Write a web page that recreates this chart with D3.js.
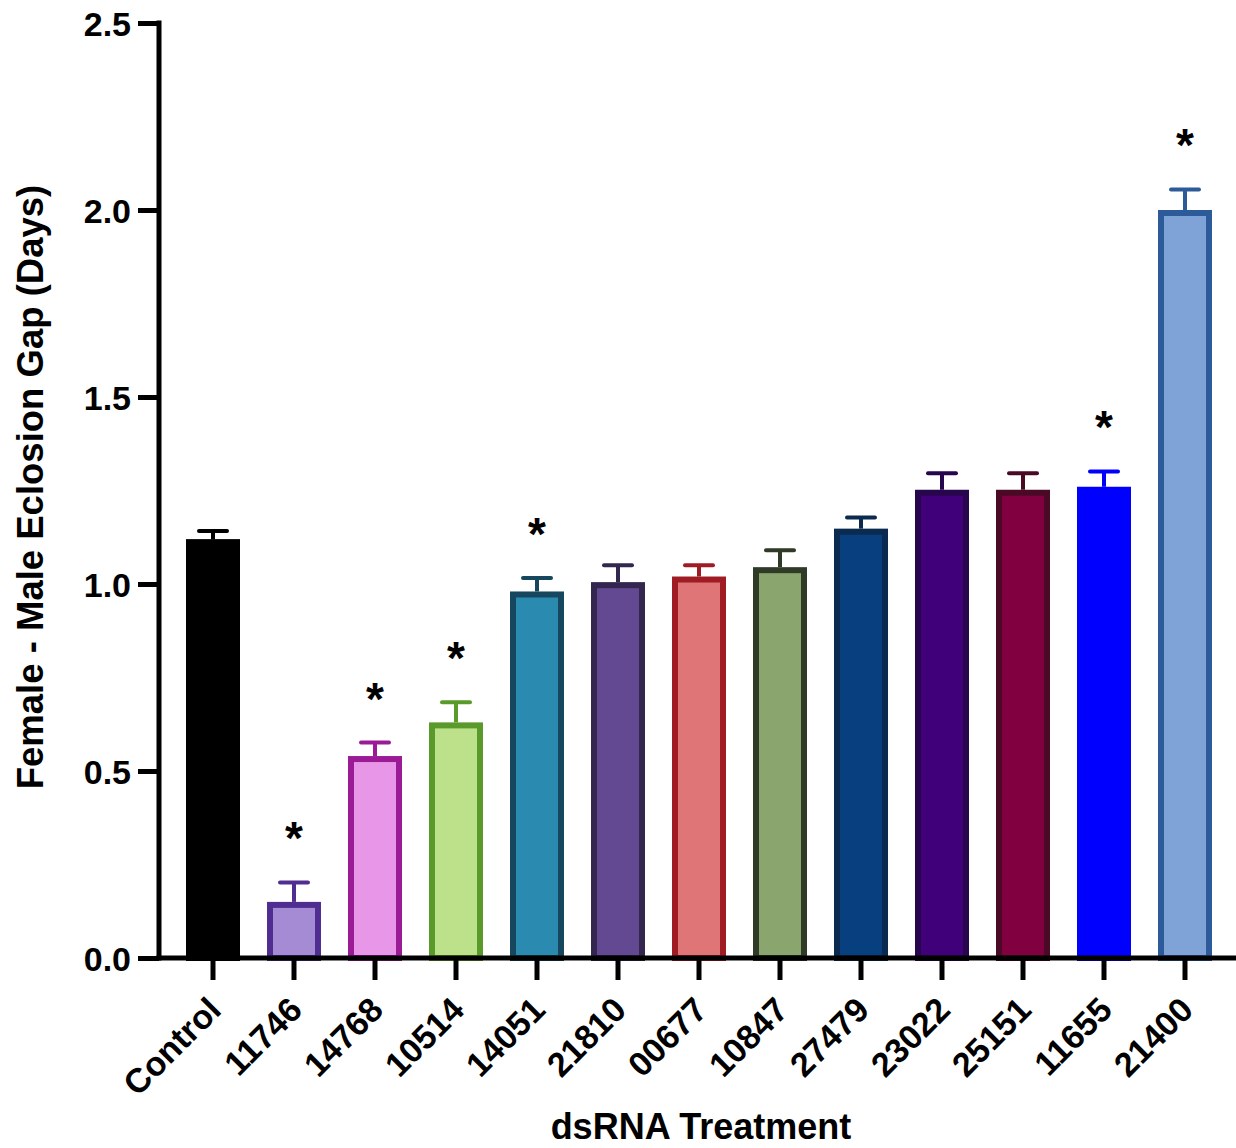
<!DOCTYPE html>
<html>
<head>
<meta charset="utf-8">
<script src="https://cdn.jsdelivr.net/npm/d3@7"></script>
<style>
  html, body { margin: 0; padding: 0; background: #fff; }
  svg { display: block; }
  text { font-family: "Liberation Sans", Arial, sans-serif; font-weight: bold; fill: #000; }
</style>
</head>
<body>
<svg id="chart" width="1236" height="1148"></svg>
<script>
const categories = ["Control","11746","14768","10514","14051","21810","00677","10847","27479","23022","25151","11655","21400"];
const means      = [1.12, 0.15, 0.54, 0.63, 0.98, 1.005, 1.02, 1.045, 1.148, 1.252, 1.252, 1.26, 2.0];
const errors     = [0.022, 0.052, 0.036, 0.054, 0.036, 0.045, 0.03, 0.045, 0.03, 0.044, 0.044, 0.041, 0.055];
const significant = [false, true, true, true, true, false, false, false, false, false, false, true, true];
const fillColors   = ["#000000","#a48bd4","#e896e8","#bde08a","#2a8aaf","#634892","#e07578","#8ba56e","#073f7f","#3f007a","#800040","#0000ff","#7fa3d6"];
const strokeColors = ["#000000","#4f2d91","#9b1a96","#5a9a2a","#17475e","#33264f","#a01c24","#2f3a27","#0a2a4f","#28064d","#4a0a26","#0000ff","#2d5b9a"];
const yTicks = [0, 0.5, 1.0, 1.5, 2.0, 2.5];
const yTitle = "Female - Male Eclosion Gap (Days)";
const xTitle = "dsRNA Treatment";

const svg = d3.select("#chart");
const axisX = 159, axisY = 958, topY = 23, rightX = 1236;

const x = d3.scaleBand().domain(categories)
  .range([172.5, 1225.5]).paddingInner(1/3).paddingOuter(1/6);
const y = d3.scaleLinear().domain([0, 2.5]).range([axisY, topY]);

const sw = 6;
const bw = x.bandwidth();
const data = categories.map((c, i) => ({c, m: means[i], e: errors[i], s: significant[i], f: fillColors[i], k: strokeColors[i]}));

// error bars
const eg = svg.append("g");
data.forEach(d => {
  const cx = x(d.c) + bw / 2;
  eg.append("line").attr("x1", cx).attr("x2", cx).attr("y1", y(d.m)).attr("y2", y(d.m + d.e))
    .attr("stroke", d.k).attr("stroke-width", 4);
  eg.append("line").attr("x1", cx - 14).attr("x2", cx + 14).attr("y1", y(d.m + d.e)).attr("y2", y(d.m + d.e))
    .attr("stroke", d.k).attr("stroke-width", 4).attr("stroke-linecap", "round");
});

// bars
svg.append("g").selectAll("rect").data(data).join("rect")
  .attr("x", d => x(d.c) + sw / 2)
  .attr("width", bw - sw)
  .attr("y", d => y(d.m) + sw / 2)
  .attr("height", d => y(0) - y(d.m) - sw / 2)
  .attr("fill", d => d.f)
  .attr("stroke", d => d.k)
  .attr("stroke-width", sw);

// asterisks
svg.append("g").selectAll("text").data(data.filter(d => d.s)).join("text")
  .attr("x", d => x(d.c) + bw / 2)
  .attr("y", d => y(d.m + d.e) - 28)
  .attr("text-anchor", "middle")
  .style("font-size", "46px")
  .text("*");

// y axis
const yAxis = svg.append("g").attr("transform", `translate(${axisX},0)`)
  .call(d3.axisLeft(y).tickValues(yTicks).tickFormat(d3.format(".1f")).tickSize(21).tickSizeOuter(0).tickPadding(7));
yAxis.select(".domain").attr("stroke", "#000").attr("stroke-width", 5).attr("d", `M0,${topY - 2.5}V${axisY + 2.5}`);
yAxis.selectAll(".tick line").attr("stroke", "#000").attr("stroke-width", 5);
yAxis.selectAll(".tick text").style("font-size", "34px").attr("dy", "0.36em");
yAxis.attr("font-family", null).attr("font-size", null);

// x axis
const xAxis = svg.append("g").attr("transform", `translate(0,${axisY})`)
  .call(d3.axisBottom(x).tickSize(22).tickSizeOuter(0));
xAxis.select(".domain").remove();
xAxis.append("line").attr("x1", axisX - 2.5).attr("x2", rightX).attr("y1", 0).attr("y2", 0)
  .attr("stroke", "#000").attr("stroke-width", 5);
xAxis.selectAll(".tick line").attr("stroke", "#000").attr("stroke-width", 5);
xAxis.attr("font-family", null).attr("font-size", null);
xAxis.selectAll(".tick text")
  .style("font-size", "34px")
  .attr("text-anchor", "end")
  .attr("y", 0).attr("dy", 0)
  .attr("transform", "translate(10,54) rotate(-45)");

// titles
svg.append("text").attr("x", 701).attr("y", 1139).attr("text-anchor", "middle")
  .style("font-size", "36px").text(xTitle);
svg.append("text").attr("transform", "translate(43,487) rotate(-90)").attr("text-anchor", "middle")
  .style("font-size", "36.5px").text(yTitle);
</script>
</body>
</html>
